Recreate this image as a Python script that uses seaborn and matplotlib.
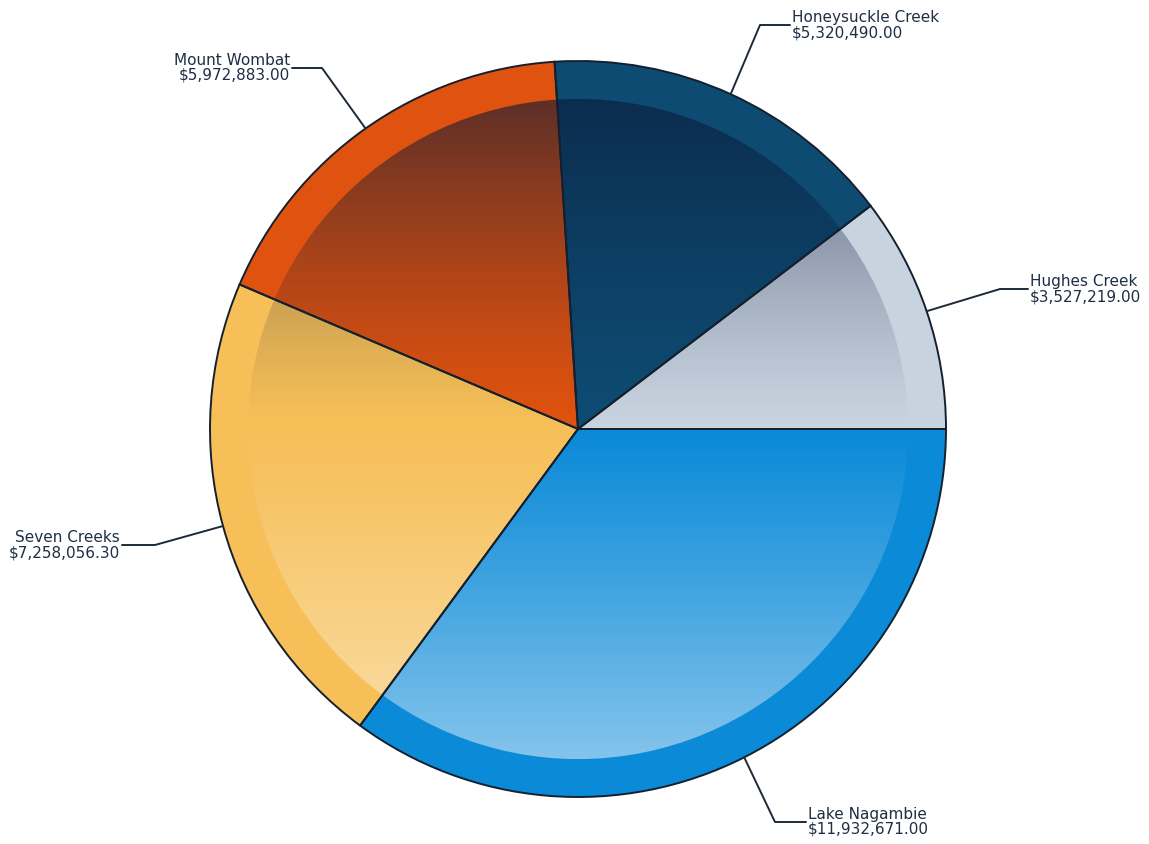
import numpy as np
import matplotlib
matplotlib.use("Agg")
import matplotlib.pyplot as plt
import seaborn as sns
from matplotlib.patches import Circle, Wedge

# ---- data ----
categories = ["Hughes Creek", "Honeysuckle Creek", "Mount Wombat", "Seven Creeks", "Lake Nagambie"]
values = [3527219.00, 5320490.00, 5972883.00, 7258056.30, 11932671.00]
value_labels = ["$3,527,219.00", "$5,320,490.00", "$5,972,883.00", "$7,258,056.30", "$11,932,671.00"]
colors = ["#c8d3e0", "#0e4b72", "#e0520f", "#f6bf58", "#0b8ad8"]

sns.set_theme(style="white")
plt.rcParams['font.family'] = ['DejaVu Sans']

W, H = 1149, 845
fig = plt.figure(figsize=(W / 100, H / 100), dpi=100)
ax = fig.add_axes([0, 0, 1, 1])
ax.set_xlim(0, W)
ax.set_ylim(0, H)
ax.set_aspect('equal')
ax.axis('off')

cx, cy, R = 578, H - 430, 368
inner = 0.897 * R

wedges, _ = ax.pie(values, colors=colors, startangle=0, counterclock=True,
                   center=(cx, cy), radius=R, frame=True,
                   wedgeprops=dict(linewidth=0))
ax.set_xlim(0, W)
ax.set_ylim(0, H)
ax.axis('off')

# shading overlay inside inner circle (dark at top, light at bottom)
n = 400
ys = np.linspace(1, -1, n)  # top to bottom
img = np.zeros((n, 2, 4))
dark = np.array([0.04, 0.10, 0.22])
for i, y in enumerate(ys):
    if y > 0:
        a = 0.62 * (y ** 1.3)
        img[i, :, :3] = dark
        img[i, :, 3] = a
    else:
        a = 0.5 * (abs(y) ** 1.1)
        img[i, :, :3] = 1.0
        img[i, :, 3] = a
im = ax.imshow(img, extent=(cx - inner, cx + inner, cy - inner, cy + inner),
               origin='upper', aspect='auto', zorder=2, interpolation='bilinear')
clip = Circle((cx, cy), inner, transform=ax.transData)
im.set_clip_path(clip)

# edges on top
ang = 0.0
total = sum(values)
mids = []
for v in values:
    span = 360.0 * v / total
    w = Wedge((cx, cy), R, ang, ang + span, facecolor='none',
              edgecolor='#14202e', linewidth=1.4, zorder=3)
    ax.add_patch(w)
    mids.append(ang + span / 2)
    ang += span

ax.set_xlim(0, W)
ax.set_ylim(0, H)

# label positions (elbow point, end point, text side)
elbows = [(1000, H - 290), (760, H - 26), (322, H - 69), (155, H - 546), (775, H - 823)]
ends = [(1028, H - 290), (790, H - 26), (292, H - 69), (122, H - 546), (806, H - 823)]
sides = ['left', 'left', 'right', 'right', 'left']

for mid, el, en, side, name, vl in zip(mids, elbows, ends, sides, categories, value_labels):
    t = np.deg2rad(mid)
    px, py = cx + R * np.cos(t), cy + R * np.sin(t)
    ax.plot([px, el[0], en[0]], [py, el[1], en[1]], color='#1c2a3a', lw=1.4, zorder=4)
    tx = en[0] + (2 if side == 'left' else -2)
    ax.text(tx, en[1] + 1, name, ha=side, va='bottom', fontsize=11, color='#1e2e44', zorder=5)
    ax.text(tx, en[1] + 1, vl, ha=side, va='top', fontsize=11, color='#1e2e44', zorder=5)

fig.savefig("out.png", dpi=100)
